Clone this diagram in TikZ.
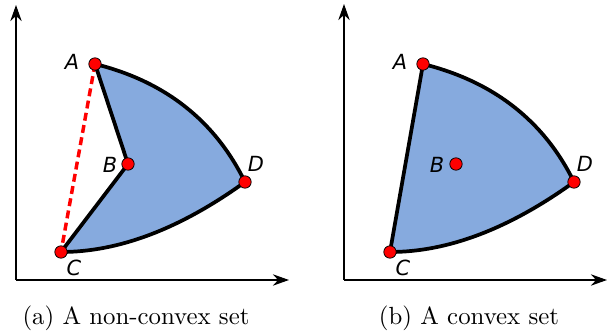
\documentclass[tikz,border=0pt]{standalone}
\usepackage{fontspec}
\newfontfamily\ptfont{DejaVu Sans}
\usetikzlibrary{arrows.meta}
\definecolor{setblue}{RGB}{134,170,222}
\tikzset{
  axis/.style={line width=0.5pt, -{Stealth[length=6.5pt,width=4.6pt]}},
  border/.style={line width=1.5pt, line join=round},
  pt/.style={circle, fill=red, draw=black, line width=0.3pt, inner sep=0pt, minimum size=5pt},
  lbl/.style={font=\ptfont\itshape\fontsize{8.4}{10}\selectfont},
}
\begin{document}
\begin{tikzpicture}[x=0.403pt, y=-0.403pt]
\useasboundingbox (0,0) rectangle (607,335);
% (a) non-convex set
\coordinate (Oa) at (16,280);
\coordinate (A) at (95,64);
\coordinate (B) at (128,164);
\coordinate (C) at (61,252);
\coordinate (D) at (245,182);
\draw[axis] (Oa) -- (16,5);
\draw[axis] (Oa) -- (289,280);
\fill[setblue] (A) .. controls +(70,17.3) and +(-30,-61.3) .. (D)
  .. controls +(-64.7,46.7) and +(58,0) .. (C) -- (B) -- cycle;
\draw[red, line width=1.4pt, dash pattern=on 3.2pt off 1.8pt] (A) -- (C);
\draw[border] (A) .. controls +(70,17.3) and +(-30,-61.3) .. (D)
  .. controls +(-64.7,46.7) and +(58,0) .. (C) -- (B) -- cycle;
\node[pt] (pA) at (A) {};
\node[pt] (pB) at (B) {};
\node[pt] (pC) at (C) {};
\node[pt] (pD) at (D) {};
\node[lbl] (lA) at (72,62) {A};
\node[lbl] (lB) at (110,165) {B};
\node[lbl] (lC) at (74,268) {C};
\node[lbl] (lD) at (256,164) {D};
\node[anchor=base] (capa) at (136,325) {(a) A non-convex set};
% (b) convex set
\begin{scope}[shift={(329,0)}]
\coordinate (Ob) at (15,280);
\coordinate (A) at (94,64);
\coordinate (B) at (127,164);
\coordinate (C) at (61,252);
\coordinate (D) at (245,182);
\draw[axis] (Ob) -- (15,4);
\draw[axis] (Ob) -- (278,280);
\fill[setblue] (A) .. controls +(70,17.3) and +(-30,-61.3) .. (D)
  .. controls +(-64.7,46.7) and +(58,0) .. (C) -- cycle;
\draw[border] (A) .. controls +(70,17.3) and +(-30,-61.3) .. (D)
  .. controls +(-64.7,46.7) and +(58,0) .. (C) -- cycle;
\node[pt] (qA) at (A) {};
\node[pt] (qB) at (B) {};
\node[pt] (qC) at (C) {};
\node[pt] (qD) at (D) {};
\node[lbl] (mA) at (71,62) {A};
\node[lbl] (mB) at (108,165) {B};
\node[lbl] (mC) at (74,268) {C};
\node[lbl] (mD) at (256,164) {D};
\node[anchor=base] (capb) at (140,325) {(b) A convex set};
\end{scope}
\end{tikzpicture}
\end{document}
